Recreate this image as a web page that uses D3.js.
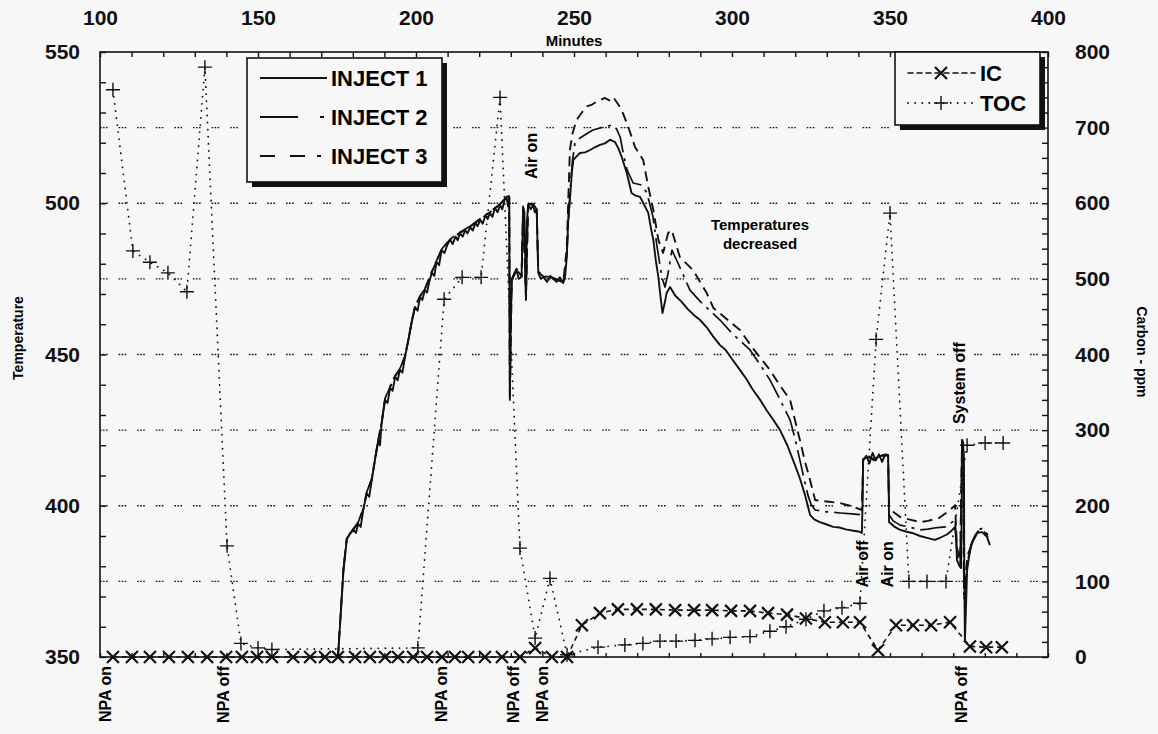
<!DOCTYPE html>
<html>
<head>
<meta charset="utf-8">
<script src="https://cdn.jsdelivr.net/npm/d3@7"></script>
<style>
  body { margin: 0; background: #f7f7f7; }
  svg { font-family: "Liberation Sans", Arial, sans-serif; }
  .tick text { font-weight: bold; }
</style>
</head>
<body>
<svg id="chart" width="1158" height="734"></svg>
<script>
// ---- data ----
const minuteTicks = [100, 150, 200, 250, 300, 350, 400];
const tempTicks = [350, 400, 450, 500, 550];
const carbonTicks = [0, 100, 200, 300, 400, 500, 600, 700, 800];

// [minutes, temperature]
const inject1 = [[175.3,350],[176.3,366],[177.0,378],[178.1,389],[179.0,390.5],[180.2,392],[181.0,391],[181.7,394],[182.5,393],[183.3,398.6],[184.4,404],[185.2,403],[186.0,408.5],[187.0,415],[188.1,421.7],[188.6,420],[189.1,427],[190.2,435],[191.0,434],[191.8,439],[192.6,438],[193.4,442.6],[194.2,441.5],[194.9,444.9],[195.7,444],[196.5,449],[197.6,454.8],[198.6,460.4],[199.7,465.7],[200.5,464.5],[201.3,469],[202.0,468],[202.8,471.3],[203.5,470.5],[204.2,474],[205.0,477],[205.8,476],[206.5,480.6],[207.3,479.5],[208.1,484.5],[209.0,483.5],[209.8,486],[210.8,487.9],[211.6,486.5],[212.5,489],[213.2,487.8],[213.9,490],[214.8,489],[215.6,491.2],[216.3,490],[217.1,492],[218.0,491],[218.8,493.5],[219.5,492.4],[220.3,494.5],[221.1,493.2],[222.0,496],[222.7,494.8],[223.4,496.8],[224.2,495.5],[225.0,498.5],[225.8,497],[226.6,499.4],[227.3,498],[228.0,501],[228.7,501.8],[229.1,499],[229.5,502],[229.7,435],[230.0,462],[230.3,474.6],[231.0,476],[231.8,478],[232.5,475],[233.4,475.6],[233.7,488],[233.9,498.8],[234.3,497],[234.8,468],[235.1,494],[235.5,499.4],[236.3,498],[237.1,499.4],[237.6,497],[238.2,497.8],[238.5,484],[238.7,477],[239.5,475],[240.3,475.6],[241.5,474],[242.5,476],[243.4,475],[244.5,474],[245.5,475.5],[246.6,473.6],[247.2,476],[247.7,482],[248.2,495],[248.7,501],[249.3,510],[249.8,514.3],[250.8,515.5],[251.9,516.6],[253.5,516.8],[255.1,517.6],[256.6,518.5],[258.2,519.3],[259.8,519.8],[261.4,521],[263.0,520.2],[264.1,518],[265.1,515.3],[266.7,510],[268.2,503.4],[269.5,502.5],[270.9,502.1],[272.2,499.5],[273.5,496.8],[274.3,492],[275.1,487.9],[275.9,481],[276.7,475.6],[277.4,469],[278.0,463.7],[278.7,467],[279.3,470.3],[280.4,472.3],[282,469.5],[284,467.5],[286,465],[288,463],[289.9,461.4],[292,459],[294,456],[296.2,453.1],[298,451.5],[300,448.5],[302.5,444.9],[304.5,442],[306.5,438.5],[308.9,435],[311,431.5],[313,428.5],[315.2,425],[317.5,420],[319.9,413.5],[321.5,409],[323.1,403.6],[324.7,397],[326,395.5],[327.8,394.6],[330,393.8],[332,393],[334,392.8],[336,392.2],[338,391.8],[340,391.5],[341.1,391],[341.3,400],[341.5,415],[342.5,416.5],[343.5,414],[344.5,417.5],[345.5,415],[346.5,417],[347.5,414.5],[348.5,417],[349.4,416.8],[349.6,405],[349.7,394.6],[351.5,393],[353.2,392],[355,391.5],[357,391],[359.5,390],[362,389.3],[364.2,388.7],[366,389.5],[368,390.5],[369,391.3],[370.6,393],[371.0,388],[371.2,382],[372.0,380],[372.5,379.4],[372.7,400],[372.8,421.7],[373.1,421],[373.4,415],[373.5,380],[373.7,355.6],[374.0,365],[374.4,378.7],[375.0,383],[375.6,386.4],[376.5,389],[377.5,391],[379.1,391.3],[380.7,389.7],[381.6,387]];

const inject2 = [[175.3,350],[176.3,367],[177.0,379],[178.1,389.5],[180.2,392.5],[181.7,394.5],[183.3,399],[184.4,404.5],[186.0,409],[187.0,415.5],[188.1,422],[189.1,427.5],[190.2,435.5],[191.8,439.5],[193.4,443],[194.9,445.3],[196.5,449.5],[197.6,455],[198.6,460.8],[199.7,466],[201.3,469.4],[202.8,471.7],[205.0,477.4],[206.5,481],[208.1,484.8],[210.8,488.2],[213.9,490.4],[217.1,492.4],[220.3,494.9],[223.4,497.2],[226.6,499.8],[228.7,502.2],[229.5,502.4],[229.7,436],[230.3,475],[231.8,478.4],[233.4,476],[233.9,499],[234.8,469],[235.5,499.8],[237.1,499.8],[238.2,498],[238.7,477.4],[240.3,476],[243.4,475.4],[246.6,474],[247.7,483],[248.7,503],[249.5,514],[250.3,519.9],[251.9,521.6],[254,523],[256,524.2],[259.2,525.2],[262.3,525.9],[263.5,524.5],[264.6,521.9],[265.7,516],[266.8,511],[268.7,506.7],[271.5,506],[273.1,503.4],[275,495.5],[276.3,485.5],[277.8,475.6],[278.8,472.3],[279.8,477],[281,484.5],[283,480],[286.7,471.3],[290,467.5],[293,464.5],[296.2,461.4],[300,457],[305.7,451.5],[309,446.5],[312,441.6],[315,435.5],[318.4,428.3],[320,422],[321.5,415],[322.8,409],[324,403.6],[325,400.5],[326.3,398.6],[330,398],[334.2,397.6],[338,397.3],[341.1,397],[341.3,405],[341.5,415.5],[343,416],[345,415.5],[347,416.5],[349.4,416.5],[349.7,397],[351,395],[353.2,393.6],[356,393],[359.5,392],[362,392.3],[365,392.8],[367.6,393],[370.6,395.3],[371.2,383.7],[372.2,380.4],[372.8,421.7],[373.2,418],[373.4,368.8],[374.6,382],[375.9,388],[377.8,392],[379.4,392.6],[381,390.3]];

const inject3 = [[175.3,350],[176.3,366.5],[177.0,378.5],[178.1,389.2],[180.2,392.2],[181.7,394.2],[183.3,398.8],[184.4,404.2],[186.0,408.7],[187.0,415.2],[188.1,421.9],[189.1,427.2],[190.2,435.2],[191.8,439.2],[193.4,442.8],[194.9,445.1],[196.5,449.2],[197.6,455],[198.6,460.6],[199.7,465.9],[201.3,469.2],[202.8,471.5],[205.0,477.2],[206.5,480.8],[208.1,484.7],[210.8,488.1],[213.9,490.2],[217.1,492.2],[220.3,494.7],[223.4,497],[226.6,499.6],[228.7,502],[229.5,502.2],[229.7,435.5],[230.3,474.8],[231.8,478.2],[233.4,475.8],[233.9,498.9],[234.8,468.5],[235.5,499.6],[237.1,499.6],[238.2,497.9],[238.7,477.2],[240.3,475.8],[243.4,475.2],[246.6,473.8],[247.7,485],[248.7,517.6],[249.5,523],[250.8,527.5],[252.5,530],[254,532],[255.5,532.5],[257.2,533.6],[259.8,534.8],[261.2,534],[262.4,535.1],[263.8,533],[265.1,530.8],[267.2,525.2],[269.3,518.6],[271.9,514.3],[273.5,505.4],[275.1,497.8],[276.7,487.9],[278.2,483.6],[279.8,490.2],[280.9,491.2],[283.5,482.2],[287.7,477.9],[292,470.3],[294.1,465.4],[298,462],[302.5,458.1],[307,451.5],[312,444.9],[315,440],[318.4,435],[320,428],[321.5,421.7],[323,415],[324.7,408.5],[326.3,401.9],[330,401.4],[334.2,400.9],[338,399.8],[341.1,398.6],[341.3,406],[341.5,415.2],[343,416.5],[345,415],[347,416.8],[349.4,416.6],[349.7,400.2],[351,398],[353.2,396.3],[356,395.5],[359.5,394.6],[362,395],[365.6,396],[369,398.6],[370.6,400.2],[371.2,386],[372.2,382],[372.8,421.7],[373.2,419],[373.4,372],[374.6,383.7],[375.9,387.5],[377.8,391.5],[379.4,392],[381,389.5]];

// [minutes, carbon ppm]
const icData = [[104.1,0],[110.1,0],[115.8,0],[121.8,0],[127.8,0],[133.9,0],[139.9,0],[144.9,0],[149.7,0],[154.4,0],[161.1,0],[166.5,0],[171.2,0],[175.3,0],[180.7,0],[185.4,0],[190.2,0],[194.3,0],[199.1,0],[203.5,0],[208.2,0],[212.3,0],[216.5,0],[221.8,0],[227.2,0],[232.9,0],[237.7,12],[243.0,0],[247.8,0],[252.5,42],[258.2,58],[263.9,63],[269.9,63],[275.9,63],[282.0,62],[288.0,62],[293.7,62],[299.7,61],[305.7,61],[311.4,58],[317.4,56],[323.4,51],[329.4,46],[335.1,46],[340.5,46],[346.2,9],[351.9,42],[357.3,42],[363.0,42],[369.0,46],[375.3,14],[380.4,13],[385.4,13]];

const tocData = [[104.1,750],[110.4,537],[115.8,522],[121.5,508],[127.5,483],[133.2,780],[140.2,147],[144.6,18],[150.0,12],[154.4,10],[200.6,12],[208.9,473],[214.6,502],[220.6,502],[226.6,740],[232.9,144],[237.7,25],[242.4,104],[247.8,3],[257.6,13],[266.1,16],[271.8,18],[277.2,21],[282.3,21],[288.3,22],[293.7,24],[299.4,26],[305.7,27],[312.0,34],[317.1,40],[323.4,50],[329.1,61],[334.8,65],[340.5,71],[345.6,420],[350.0,587],[356.0,100],[361.7,100],[367.7,100],[374.4,280],[380.1,283],[385.8,283]];

// events under the axis
const bottomEvents = [[101.6,"NPA on"],[138.9,"NPA off"],[207.9,"NPA on"],[230.7,"NPA off"],[239.9,"NPA on"],[372.5,"NPA off"]];
// events written inside the plot: [minutes, temperature at text start, text]
const plotEvents = [[236.8,508,"Air on"],[341.4,373,"Air off"],[349.4,373,"Air on"],[372.0,427,"System off"]];
const noteLines = ["Temperatures", "decreased"];

// ---- layout ----
const svg = d3.select("#chart");
const pLeft = 100, pRight = 1048, pTop = 52, pBottom = 657;

const x = d3.scaleLinear().domain([100, 400]).range([pLeft, pRight]);
const yT = d3.scaleLinear().domain([350, 550]).range([pBottom, pTop]);
const yC = d3.scaleLinear().domain([0, 800]).range([pBottom, pTop]);

svg.append("rect")
  .attr("width", 1158).attr("height", 734)
  .attr("fill", "#f7f7f7");

// gridlines at every carbon hundred
svg.append("g")
  .selectAll("line")
  .data(carbonTicks.slice(1, -1)).enter()
  .append("line")
  .attr("x1", pLeft).attr("x2", pRight)
  .attr("y1", (d) => yC(d)).attr("y2", (d) => yC(d))
  .attr("stroke", "#111")
  .attr("stroke-width", 1.4)
  .attr("stroke-dasharray", "1.6,1.4,1.6,1.4,1.6,11");

// frame
svg.append("rect")
  .attr("x", pLeft).attr("y", pTop)
  .attr("width", pRight - pLeft).attr("height", pBottom - pTop)
  .attr("fill", "none").attr("stroke", "#111").attr("stroke-width", 1.6);

// inner ticks
const minorTop = d3.axisBottom(x).ticks(30).tickSize(5).tickFormat("");
svg.append("g").attr("transform", `translate(0,${pTop})`).call(minorTop);
const minorBottom = d3.axisTop(x).ticks(30).tickSize(4).tickFormat("");
svg.append("g").attr("transform", `translate(0,${pBottom})`).call(minorBottom);
const minorLeft = d3.axisRight(yT).ticks(20).tickSize(6).tickFormat("");
svg.append("g").attr("transform", `translate(${pLeft},0)`).call(minorLeft);
const minorRight = d3.axisLeft(yC).ticks(40).tickSize(6).tickFormat("");
svg.append("g").attr("transform", `translate(${pRight},0)`).call(minorRight);
svg.selectAll(".domain").remove();
svg.selectAll(".tick line").attr("stroke", "#111").attr("stroke-width", 1.4);

// tick labels
function labelAxis(axis, tr) {
  const g = svg.append("g").attr("transform", tr).call(axis);
  g.select(".domain").remove();
  g.selectAll(".tick text").attr("font-size", 21).attr("fill", "#111");
  return g;
}
labelAxis(d3.axisTop(x).tickValues(minuteTicks).tickSize(0).tickPadding(27), `translate(0,${pTop})`);
labelAxis(d3.axisLeft(yT).tickValues(tempTicks).tickSize(0).tickPadding(20), `translate(${pLeft},0)`);
labelAxis(d3.axisRight(yC).tickValues(carbonTicks).tickSize(0).tickPadding(27), `translate(${pRight},0)`);

// axis titles
svg.append("text").text("Minutes")
  .attr("x", (pLeft + pRight) / 2).attr("y", 46)
  .attr("text-anchor", "middle").attr("font-size", 15).attr("font-weight", "bold");
svg.append("text").text("Temperature")
  .attr("transform", "translate(23,338) rotate(-90)")
  .attr("text-anchor", "middle").attr("font-size", 14).attr("font-weight", "bold");
svg.append("text").text("Carbon - ppm")
  .attr("transform", "translate(1137,352) rotate(90)")
  .attr("text-anchor", "middle").attr("font-size", 14).attr("font-weight", "bold");

// temperature lines
const tLine = d3.line().x((d) => x(d[0])).y((d) => yT(d[1]));
const injectStyles = [
  { name: "INJECT 1", data: inject1, dash: null, w: 1.9 },
  { name: "INJECT 2", data: inject2, dash: "26,6,3,6", w: 1.7 },
  { name: "INJECT 3", data: inject3, dash: "10,6", w: 1.9 }
];
injectStyles.forEach((s) => {
  svg.append("path")
    .attr("d", tLine(s.data))
    .attr("fill", "none").attr("stroke", "#111")
    .attr("stroke-width", s.w)
    .attr("stroke-linejoin", "round")
    .attr("stroke-dasharray", s.dash);
});

// carbon series
const cLine = d3.line().x((d) => x(d[0])).y((d) => yC(d[1]));
svg.append("path").attr("d", cLine(tocData))
  .attr("fill", "none").attr("stroke", "#111").attr("stroke-width", 1.8)
  .attr("stroke-linecap", "round").attr("stroke-dasharray", "0.1,7");
svg.append("path").attr("d", cLine(icData))
  .attr("fill", "none").attr("stroke", "#111").attr("stroke-width", 1.6)
  .attr("stroke-dasharray", "5,4");

const xMark = "M-6,-6L6,6M-6,6L6,-6";
const plusMark = "M-7,0L7,0M0,-7L0,7";
svg.append("g").selectAll("path")
  .data(icData).enter().append("path")
  .attr("d", xMark)
  .attr("transform", (d) => `translate(${x(d[0])},${yC(d[1])})`)
  .attr("stroke", "#111").attr("stroke-width", 2.2).attr("fill", "none");
svg.append("g").selectAll("path")
  .data(tocData).enter().append("path")
  .attr("d", plusMark)
  .attr("transform", (d) => `translate(${x(d[0])},${yC(d[1])})`)
  .attr("stroke", "#111").attr("stroke-width", 1.4).attr("fill", "none");

// event labels
svg.append("g").selectAll("text")
  .data(bottomEvents).enter().append("text")
  .text((d) => d[1])
  .attr("transform", (d) => `translate(${x(d[0]) + 6},${pBottom + 9}) rotate(-90)`)
  .attr("text-anchor", "end")
  .attr("font-size", 16).attr("font-weight", "bold");
svg.append("g").selectAll("text")
  .data(plotEvents).enter().append("text")
  .text((d) => d[2])
  .attr("transform", (d) => `translate(${x(d[0]) + 5},${yT(d[1])}) rotate(-90)`)
  .attr("text-anchor", "start")
  .attr("font-size", 16).attr("font-weight", "bold");
svg.append("g").selectAll("text")
  .data(noteLines).enter().append("text")
  .text((d) => d)
  .attr("x", 760).attr("y", (d, i) => 230 + i * 19)
  .attr("text-anchor", "middle")
  .attr("font-size", 15).attr("font-weight", "bold");

// legends
function legendBox(x0, y0, w, h) {
  svg.append("rect").attr("x", x0 + 5).attr("y", y0 + 5).attr("width", w).attr("height", h).attr("fill", "#111");
  svg.append("rect").attr("x", x0).attr("y", y0).attr("width", w).attr("height", h)
    .attr("fill", "#f7f7f7").attr("stroke", "#111").attr("stroke-width", 1.6);
}
legendBox(247, 58, 195, 124);
injectStyles.forEach((s, i) => {
  const ly = 78 + i * 39;
  svg.append("line").attr("x1", 260).attr("x2", 327).attr("y1", ly).attr("y2", ly)
    .attr("stroke", "#111").attr("stroke-width", 2)
    .attr("stroke-dasharray", i == 0 ? null : (i == 1 ? "38,22,4,20" : "15,15,15,12,4,20"));
  svg.append("text").text(s.name).attr("x", 331).attr("y", ly + 8)
    .attr("font-size", 22).attr("font-weight", "bold");
});

legendBox(895, 52, 145, 73);
const carbonLegend = [["IC", xMark, "5,4", 2.2], ["TOC", plusMark, "0.1,7", 1.4]];
carbonLegend.forEach((c, i) => {
  const ly = 73 + i * 30;
  svg.append("line").attr("x1", 908).attr("x2", 975).attr("y1", ly).attr("y2", ly)
    .attr("stroke", "#111").attr("stroke-width", i == 0 ? 1.6 : 1.8)
    .attr("stroke-linecap", "round")
    .attr("stroke-dasharray", c[2]);
  svg.append("path").attr("d", c[1]).attr("transform", `translate(941,${ly})`)
    .attr("stroke", "#111").attr("stroke-width", c[3]).attr("fill", "none");
  svg.append("text").text(c[0]).attr("x", 980).attr("y", ly + 8)
    .attr("font-size", 22).attr("font-weight", "bold");
});
</script>
</body>
</html>
